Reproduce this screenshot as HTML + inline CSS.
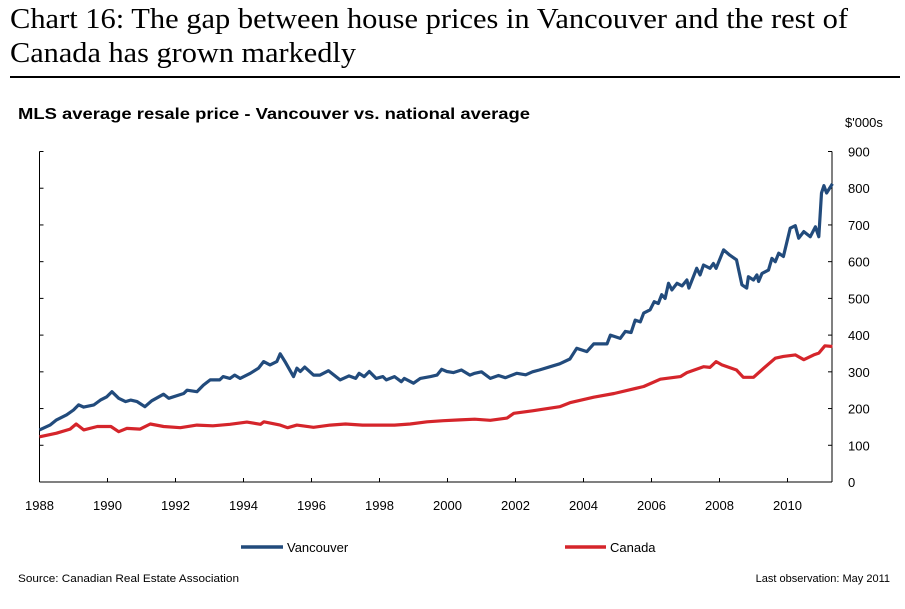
<!DOCTYPE html>
<html><head><meta charset="utf-8"><style>
html,body{margin:0;padding:0;background:#fff;}
svg{display:block;}
text{font-family:"Liberation Sans",Arial,sans-serif;fill:#000;}
.serif{font-family:"Liberation Serif",serif;}
</style></head><body>
<svg id="chart" width="905" height="609" viewBox="0 0 905 609" xmlns="http://www.w3.org/2000/svg">
<text class="serif" x="10" y="28" font-size="28" textLength="838" lengthAdjust="spacingAndGlyphs">Chart 16: The gap between house prices in Vancouver and the rest of</text>
<text class="serif" x="10" y="62" font-size="28" textLength="346" lengthAdjust="spacingAndGlyphs">Canada has grown markedly</text>
<rect x="10" y="76" width="890" height="2" fill="#000"/>
<text x="18" y="119" font-size="16" font-weight="bold" textLength="512" lengthAdjust="spacingAndGlyphs">MLS average resale price - Vancouver vs. national average</text>
<text x="845" y="127" font-size="13">$'000s</text>
<g id="axes"></g>
<g id="series"></g>
<g>
<line x1="241" y1="547" x2="283" y2="547" stroke="#224b7c" stroke-width="3.5"/>
<text x="287" y="552" font-size="13">Vancouver</text>
<line x1="565" y1="547" x2="606" y2="547" stroke="#d5252b" stroke-width="3.5"/>
<text x="610" y="552" font-size="13">Canada</text>
</g>
<text x="18" y="582" font-size="11" textLength="221" lengthAdjust="spacingAndGlyphs">Source: Canadian Real Estate Association</text>
<text x="890" y="582" font-size="11" text-anchor="end">Last observation: May 2011</text>
</svg>
<script>
const yTickLabels = ['0','100','200','300','400','500','600','700','800','900'];
const yTickValues = [0,100,200,300,400,500,600,700,800,900];
const xTickYears = [1988,1990,1992,1994,1996,1998,2000,2002,2004,2006,2008,2010];
const vanDates = [1988.0,1988.31,1988.5,1988.8,1989.0,1989.15,1989.3,1989.6,1989.79,1989.98,1990.13,1990.33,1990.53,1990.68,1990.87,1991.1,1991.3,1991.65,1991.8,1992.24,1992.34,1992.63,1992.82,1993.02,1993.3,1993.4,1993.6,1993.74,1993.9,1994.2,1994.44,1994.59,1994.78,1994.98,1995.08,1995.22,1995.47,1995.57,1995.67,1995.8,1996.06,1996.25,1996.5,1996.84,1997.1,1997.3,1997.4,1997.55,1997.7,1997.9,1998.1,1998.2,1998.44,1998.64,1998.73,1999.0,1999.2,1999.5,1999.69,1999.83,1999.98,2000.17,2000.41,2000.66,2000.8,2001.0,2001.26,2001.5,2001.7,2002.04,2002.3,2002.5,2002.7,2003.02,2003.3,2003.6,2003.8,2004.1,2004.3,2004.69,2004.79,2005.08,2005.23,2005.4,2005.52,2005.67,2005.77,2005.96,2006.08,2006.2,2006.3,2006.4,2006.5,2006.6,2006.75,2006.9,2007.04,2007.1,2007.33,2007.43,2007.53,2007.72,2007.82,2007.9,2008.12,2008.3,2008.5,2008.66,2008.8,2008.85,2009.0,2009.1,2009.15,2009.25,2009.44,2009.54,2009.64,2009.74,2009.88,2010.08,2010.23,2010.33,2010.48,2010.67,2010.82,2010.92,2011.0,2011.07,2011.15,2011.32];
const vanValues = [142,155,169,183,196,210,204,210,223,232,246,228,219,223,219,205,221,239,228,241,250,246,264,278,278,287,282,291,282,296,310,328,319,328,349,328,287,310,301,313,291,291,303,278,289,282,296,287,301,282,287,278,287,273,282,269,282,287,291,307,301,298,305,291,296,300,282,290,284,296,292,300,305,314,322,335,364,355,376,376,400,391,410,407,441,436,460,469,491,486,510,500,541,523,541,534,550,528,582,564,591,582,595,582,632,618,605,537,528,559,550,564,546,568,577,609,600,623,614,691,698,664,682,668,695,668,787,807,787,812];
const canDates = [1988.0,1988.5,1988.9,1989.08,1989.3,1989.7,1990.1,1990.33,1990.57,1990.96,1991.26,1991.65,1992.14,1992.63,1993.1,1993.6,1994.1,1994.5,1994.6,1995.08,1995.3,1995.57,1996.06,1996.55,1997.0,1997.5,1998.0,1998.44,1998.9,1999.4,1999.88,2000.36,2000.8,2001.26,2001.75,2001.95,2002.5,2003.3,2003.6,2004.3,2004.9,2005.77,2006.26,2006.85,2007.04,2007.53,2007.72,2007.9,2008.07,2008.5,2008.7,2009.0,2009.3,2009.64,2009.88,2010.23,2010.48,2010.77,2010.92,2011.1,2011.32];
const canValues = [123,133,144,158,142,151,151,137,146,144,158,151,148,155,153,157,163,157,164,155,148,155,149,155,158,155,155,155,158,164,167,169,171,168,174,187,194,205,216,231,241,260,280,287,298,314,312,328,319,305,285,285,310,337,342,346,333,346,351,371,369];

const NS='http://www.w3.org/2000/svg';
const X0=39.5, X1=832, Y0=482, YTOP=151.5;
function xScale(yr){return X0+(yr-1988)*34;}
function yScale(v){return Y0-(v/900)*(Y0-YTOP);}
function mk(tag,attrs,parent){const e=document.createElementNS(NS,tag);for(const k in attrs)e.setAttribute(k,attrs[k]);parent.appendChild(e);return e;}
const axes=document.getElementById('axes');
let ax=mk('line',{x1:X0,y1:YTOP,x2:X0,y2:Y0,stroke:'#000','stroke-width':1},axes);


ax=mk('line',{x1:X1,y1:YTOP,x2:X1,y2:Y0,stroke:'#000','stroke-width':1},axes);


ax=mk('line',{x1:X0,y1:Y0,x2:X1,y2:Y0,stroke:'#000','stroke-width':1},axes);


yTickValues.forEach((v,i)=>{
  const y=yScale(v);
  let t=mk('line',{x1:X0,y1:y,x2:X0+4,y2:y,stroke:'#000'},axes);
  
  
  t=mk('line',{x1:X1-4,y1:y,x2:X1,y2:y,stroke:'#000'},axes);
  
  
  const lb=mk('text',{x:848,y:y+5,'font-size':13,'text-anchor':'start'},axes);
  lb.textContent=yTickLabels[i];
  
  
});
xTickYears.forEach(yr=>{
  const x=xScale(yr);
  const t=mk('line',{x1:x,y1:Y0-4,x2:x,y2:Y0,stroke:'#000'},axes);
  
  
  const lb=mk('text',{x:x,y:510,'font-size':13,'text-anchor':'middle'},axes);
  lb.textContent=String(yr);
  
  
});
const series=document.getElementById('series');
function drawLine(dates,vals,color,name){
  const d=dates.map((t,i)=>(i?'L':'M')+xScale(t).toFixed(1)+','+yScale(vals[i]).toFixed(1)).join(' ');
  const p=mk('path',{d:d,fill:'none',stroke:color,'stroke-width':3.2,'stroke-linejoin':'round'},series);
  
  
}
drawLine(canDates,canValues,'#d5252b','canada-line');
drawLine(vanDates,vanValues,'#224b7c','vancouver-line');
</script>
</body></html>
